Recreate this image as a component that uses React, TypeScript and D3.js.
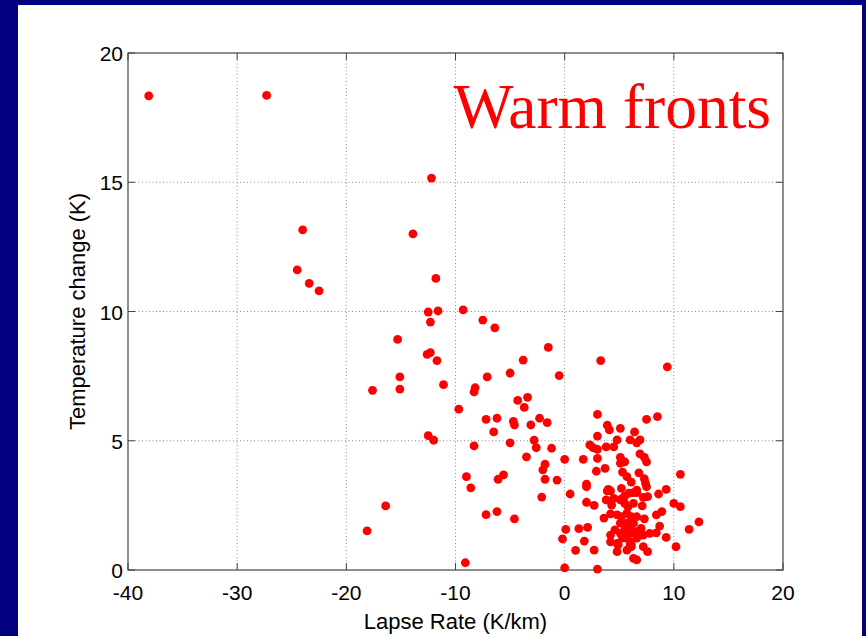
import React from "react";
import * as d3 from "d3";

const lapseRate: number[] = [
  -38.1, -27.3, -12.2, -24.0, -24.5, -23.4, -22.5, -13.9, -11.8, -12.5,
  -11.6, -12.3, -9.3, -7.5, -6.4, -15.3, -12.6, -12.3, -11.7, -1.5,
  -3.8, 3.3, 9.4, -15.1, -17.6, -15.1, -11.1, -7.1, -5.0, -0.5,
  -8.2, -8.3, -9.7, -4.3, -3.4, -3.7, 3.0, -7.2, -6.2, -4.7,
  -4.6, -3.1, -2.3, -1.6, -6.5, -12.5, -12.0, 3.0, -8.3, -5.0,
  -2.8, -2.6, -1.2, 2.3, 2.6, 3.0, -3.5, 0.0, 1.7, 3.0,
  -1.8, -2.0, 2.9, -9.0, -6.1, -5.6, -1.8, -0.7, 2.0, 2.0,
  -8.6, 0.5, -2.1, -7.2, -6.2, -4.6, 0.1, 1.3, -0.2, 1.0,
  -9.1, 0.0, -16.4, -18.1,
  7.5, 8.5, 3.9, 4.1, 5.1, 6.4, 3.8, 4.5, 4.8, 6.0,
  6.6, 6.9, 6.9, 7.3, 7.5, 5.1, 5.1, 5.5, 3.7, 5.3,
  5.7, 6.1, 6.8, 7.3, 7.4, 7.5, 10.6, 5.2, 3.9, 4.2,
  5.5, 5.9, 6.3, 6.6, 7.2, 7.6, 8.6, 9.3, 2.0, 2.7,
  3.8, 4.3, 5.1, 5.5, 5.8, 7.1, 10.0, 10.6, 4.2, 4.8,
  3.6, 5.7, 6.1, 7.3, 8.4, 8.9, 11.4, 12.3, 8.7, 2.1,
  4.6, 5.1, 5.7, 6.3, 6.1, 6.6, 7.2, 7.8, 8.4, 9.3,
  1.8, 4.2, 4.2, 4.8, 5.7, 6.1, 7.2, 7.6, 10.2, 2.7,
  4.8, 5.7, 6.3, 6.6, 3.0, 4.5, 5.3, 6.3, 5.2, 5.5,
  7.0, 5.3, 6.6, 4.9, 6.0, 6.1, 6.6, 4.0, 5.1, 6.0,
  6.0, 6.6,
];

const tempChange: number[] = [
  18.34, 18.36, 15.16, 13.16, 11.61, 11.09, 10.8, 13.0, 11.28, 9.98,
  10.02, 9.59, 10.06, 9.67, 9.37, 8.92, 8.34, 8.41, 8.1, 8.61,
  8.12, 8.1, 7.86, 7.47, 6.95, 7.0, 7.17, 7.47, 7.62, 7.52,
  7.05, 6.89, 6.22, 6.56, 6.68, 6.29, 6.02, 5.83, 5.87, 5.75,
  5.61, 5.61, 5.87, 5.7, 5.34, 5.2, 5.02, 5.18, 4.8, 4.92,
  5.02, 4.73, 4.71, 4.84, 4.73, 4.67, 4.38, 4.28, 4.28, 4.32,
  4.09, 3.87, 3.82, 3.61, 3.51, 3.68, 3.51, 3.48, 3.32, 3.22,
  3.18, 2.94, 2.82, 2.14, 2.26, 1.98, 1.57, 1.6, 1.2, 0.76,
  0.28, 0.08, 2.48, 1.51,
  5.83, 5.93, 5.6, 5.42, 5.48, 5.34, 4.76, 4.76, 5.03, 5.03,
  4.92, 5.03, 4.49, 4.36, 4.18, 4.36, 4.13, 4.18, 3.93, 3.79,
  3.61, 3.4, 3.76, 3.53, 3.37, 3.22, 3.7, 3.16, 3.06, 3.06,
  2.86, 2.97, 2.99, 2.99, 2.81, 2.84, 2.94, 3.12, 2.62, 2.5,
  2.71, 2.51, 2.71, 2.58, 2.45, 2.48, 2.58, 2.45, 2.17, 2.13,
  2.01, 2.19, 2.06, 1.98, 2.13, 2.26, 1.57, 1.86, 1.7, 1.65,
  1.55, 1.81, 1.81, 1.81, 1.55, 1.48, 1.35, 1.42, 1.44, 1.26,
  1.12, 1.35, 1.09, 1.03, 1.23, 0.97, 0.9, 0.71, 0.9, 0.77,
  0.71, 0.77, 0.45, 0.39, 0.03, 2.77, 2.77, 2.58, 2.06, 1.55,
  1.61, 1.23, 1.23, 0.97, 0.97, 0.9, 3.09, 3.12, 1.42, 1.42,
  1.09, 2.06,
];

const xTicks: number[] = [-40, -30, -20, -10, 0, 10, 20];
const yTicks: number[] = [0, 5, 10, 15, 20];

const titleText = "Warm fronts";
const xLabel = "Lapse Rate (K/km)";
const yLabel = "Temperature change (K)";

export default function App() {
  const W = 866;
  const H = 636;
  const left = 128;
  const right = 783;
  const top = 53;
  const bottom = 570;

  const x = d3.scaleLinear().domain([-40, 20]).range([left, right]);
  const y = d3.scaleLinear().domain([0, 20]).range([bottom, top]);

  const pts = lapseRate.map((v, i) => [v, tempChange[i]] as [number, number]);
  const font = "'Liberation Sans', Arial, Helvetica, sans-serif";
  const axisColor = "#444";
  const gridColor = "#8a8a8a";
  const tickLen = 7;

  return (
    <svg
      width={W}
      height={H}
      style={{ position: "fixed", left: 0, top: 0, display: "block" }}
    >
      <rect x={0} y={0} width={W} height={H} fill="#000080" />
      <rect x={18} y={5} width={862 - 18} height={H - 5} fill="#ffffff" />

      {xTicks.slice(1, -1).map((t) => (
        <line
          key={"gx" + t}
          x1={x(t)}
          x2={x(t)}
          y1={top}
          y2={bottom}
          stroke={gridColor}
          strokeWidth={1}
          strokeDasharray="1,2.5"
        />
      ))}
      {yTicks.slice(1, -1).map((t) => (
        <line
          key={"gy" + t}
          x1={left}
          x2={right}
          y1={y(t)}
          y2={y(t)}
          stroke={gridColor}
          strokeWidth={1}
          strokeDasharray="1,2.5"
        />
      ))}

      {xTicks.map((t) => (
        <g key={"tx" + t}>
          <line x1={x(t)} x2={x(t)} y1={bottom} y2={bottom - tickLen} stroke={axisColor} />
          <line x1={x(t)} x2={x(t)} y1={top} y2={top + tickLen} stroke={axisColor} />
          <text
            x={x(t)}
            y={bottom + 30}
            textAnchor="middle"
            fontFamily={font}
            fontSize={21}
            fill="#000"
          >
            {t}
          </text>
        </g>
      ))}
      {yTicks.map((t) => (
        <g key={"ty" + t}>
          <line x1={left} x2={left + tickLen} y1={y(t)} y2={y(t)} stroke={axisColor} />
          <line x1={right} x2={right - tickLen} y1={y(t)} y2={y(t)} stroke={axisColor} />
          <text
            x={left - 5}
            y={y(t) + 8}
            textAnchor="end"
            fontFamily={font}
            fontSize={21}
            fill="#000"
          >
            {t}
          </text>
        </g>
      ))}

      <rect
        x={left}
        y={top}
        width={right - left}
        height={bottom - top}
        fill="none"
        stroke={axisColor}
        strokeWidth={1.2}
      />

      {pts.map((p, i) => (
        <circle key={i} cx={x(p[0])} cy={y(p[1])} r={4.4} fill="#ff0000" />
      ))}

      <text
        x={771}
        y={128}
        textAnchor="end"
        fontFamily="'Liberation Serif', 'Times New Roman', serif"
        fontSize={63.5}
        fill="#ff0000"
      >
        {titleText}
      </text>

      <text
        x={(left + right) / 2}
        y={629}
        textAnchor="middle"
        fontFamily={font}
        fontSize={22}
        fill="#000"
      >
        {xLabel}
      </text>
      <text
        transform={`translate(85,${(top + bottom) / 2}) rotate(-90)`}
        textAnchor="middle"
        fontFamily={font}
        fontSize={22}
        fill="#000"
      >
        {yLabel}
      </text>
    </svg>
  );
}
